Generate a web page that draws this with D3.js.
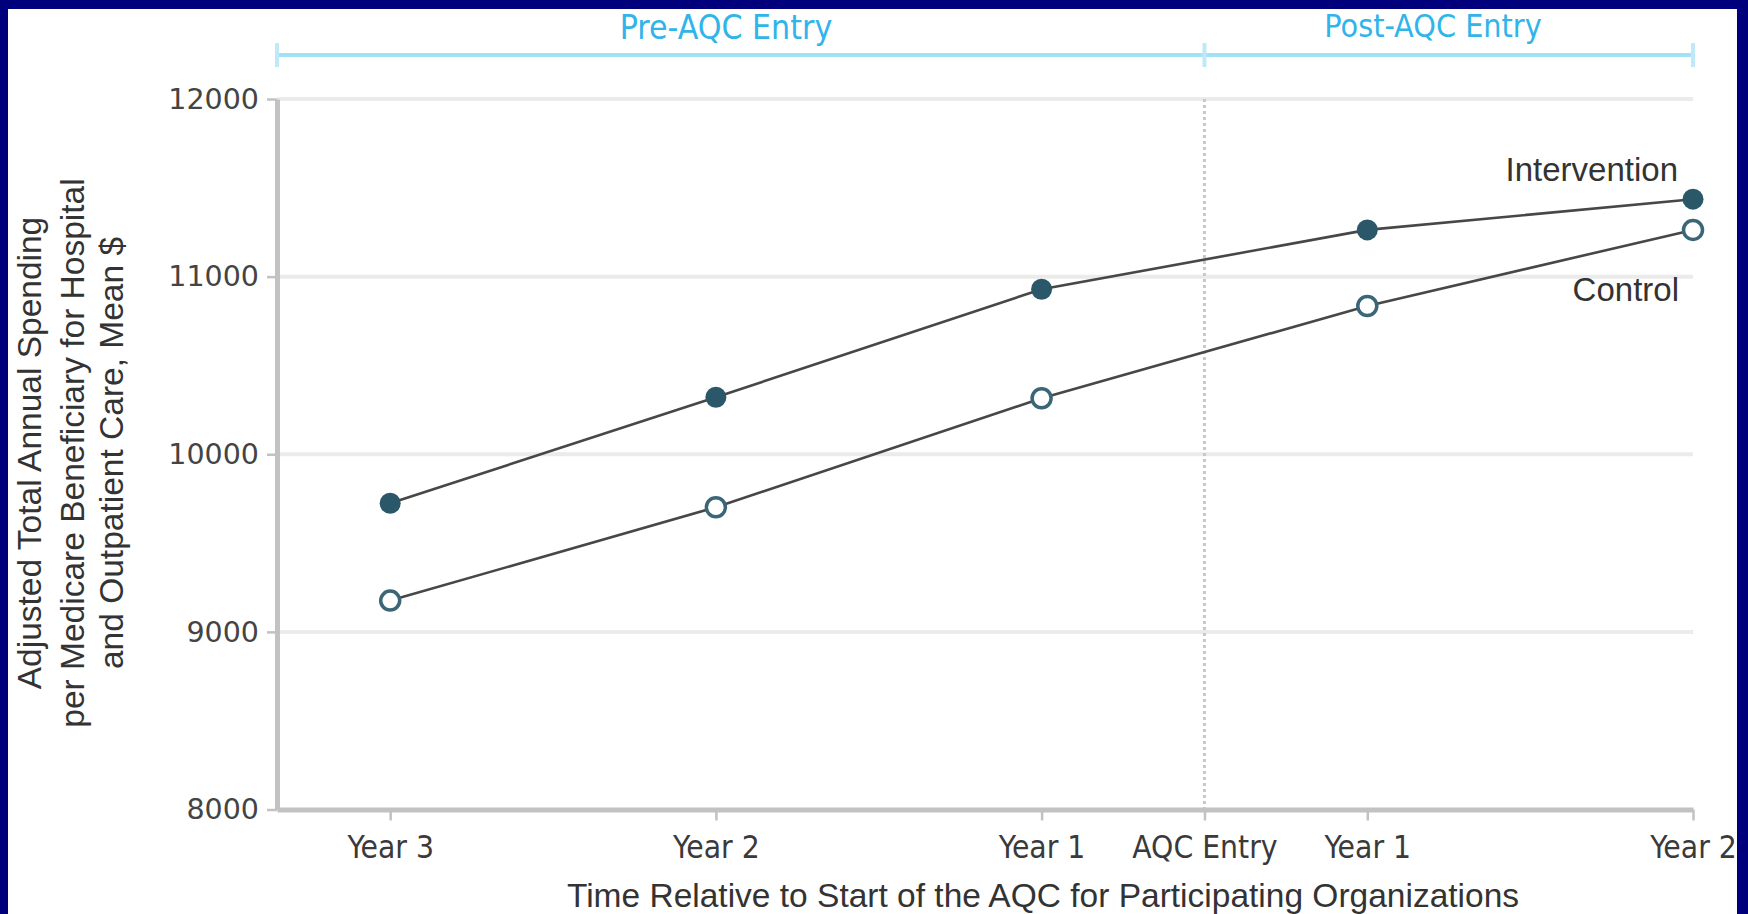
<!DOCTYPE html>
<html>
<head>
<meta charset="utf-8">
<script src="https://cdn.jsdelivr.net/npm/d3@7"></script>
<style>
  html, body { margin: 0; padding: 0; background: #fff; }
  svg { display: block; }
</style>
</head>
<body>
<script>
// ---- data ----
const xTickLabels = ["Year 3", "Year 2", "Year 1", "AQC Entry", "Year 1", "Year 2"];
const xTickPos = [-3, -2, -1, -0.5, 0, 1];
const pointPos = [-3, -2, -1, 0, 1];
const intervention = [9724, 10321, 10929, 11263, 11436];
const control = [9176, 9702, 10315, 10835, 11263];
const yTicks = [8000, 9000, 10000, 11000, 12000];
const gridTicks = [9000, 10000, 11000, 12000];
const periodLabels = ["Pre-AQC Entry", "Post-AQC Entry"];
const yTitleLines = ["Adjusted Total Annual Spending", "per Medicare Beneficiary for Hospital", "and Outpatient Care, Mean $"];
const xTitle = "Time Relative to Start of the AQC for Participating Organizations";

const W = 1748, H = 914;
const svg = d3.select("body").append("svg").attr("width", W).attr("height", H);
svg.append("rect").attr("width", W).attr("height", H).attr("fill", "#fff");

const x = d3.scaleLinear().domain([-3.3475, 1]).range([277, 1693]);
const y = d3.scaleLinear().domain([8000, 12000]).range([809.5, 99]);

const cond = "'DejaVu Sans Condensed', 'Liberation Sans Narrow', sans-serif";
const sans = "'Liberation Sans', Arial, sans-serif";

// gridlines
svg.append("g").selectAll("line").data(gridTicks).join("line")
  .attr("x1", x.range()[0]).attr("x2", x.range()[1])
  .attr("y1", d => y(d)).attr("y2", d => y(d))
  .attr("stroke", "#ebebeb").attr("stroke-width", 4);

// AQC entry dotted line
svg.append("line")
  .attr("x1", x(-0.5)).attr("x2", x(-0.5))
  .attr("y1", y(12000)).attr("y2", y(8000))
  .attr("stroke", "#c8c8c8").attr("stroke-width", 3).attr("stroke-dasharray", "3,3");

// axes
const yAxis = svg.append("g").attr("transform", `translate(${x.range()[0]},0)`)
  .call(d3.axisLeft(y).tickValues(yTicks).tickSize(10).tickSizeOuter(0).tickPadding(8).tickFormat(d3.format("d")));
yAxis.select(".domain").attr("stroke", "#c2c2c2").attr("stroke-width", 5);
yAxis.selectAll(".tick line").attr("stroke", "#c2c2c2").attr("stroke-width", 2.5);
yAxis.selectAll(".tick text").attr("font-family", "'DejaVu Sans', Verdana, sans-serif")
  .attr("font-size", 28.5).attr("fill", "#444");

const xAxis = svg.append("g").attr("transform", `translate(0,${y(8000)})`)
  .call(d3.axisBottom(x).tickValues(xTickPos).tickSize(11).tickSizeOuter(0).tickPadding(15)
    .tickFormat((d, i) => xTickLabels[i]));
xAxis.select(".domain").attr("stroke", "#c2c2c2").attr("stroke-width", 5);
xAxis.selectAll(".tick line").attr("stroke", "#c2c2c2").attr("stroke-width", 2.5);
xAxis.selectAll(".tick text").attr("font-family", cond).attr("font-size", 31.5).attr("fill", "#3a3a3a");

// period bracket
const bracketY = 55;
svg.append("line").attr("x1", x.range()[0]).attr("x2", x(1))
  .attr("y1", bracketY).attr("y2", bracketY)
  .attr("stroke", "#a3e1f7").attr("stroke-width", 4);
svg.append("g").selectAll("line").data([x.domain()[0], -0.5, 1]).join("line")
  .attr("x1", d => x(d)).attr("x2", d => x(d))
  .attr("y1", bracketY - 12).attr("y2", bracketY + 12)
  .attr("stroke", "#bfe9f9").attr("stroke-width", 4);
svg.append("text").attr("x", 726).attr("y", 39).attr("text-anchor", "middle")
  .attr("font-family", cond).attr("font-size", 33.5).attr("fill", "#30b4e9").text(periodLabels[0]);
svg.append("text").attr("x", 1433).attr("y", 37).attr("text-anchor", "middle")
  .attr("font-family", cond).attr("font-size", 32).attr("fill", "#30b4e9").text(periodLabels[1]);

// series lines
const line = d3.line().x((d, i) => x(pointPos[i])).y(d => y(d));
svg.append("path").datum(intervention).attr("d", line)
  .attr("fill", "none").attr("stroke", "#474747").attr("stroke-width", 2.6);
svg.append("path").datum(control).attr("d", line)
  .attr("fill", "none").attr("stroke", "#474747").attr("stroke-width", 2.6);

// points
svg.append("g").selectAll("circle").data(intervention).join("circle")
  .attr("cx", (d, i) => x(pointPos[i])).attr("cy", d => y(d)).attr("r", 10.5)
  .attr("fill", "#2b5868");
svg.append("g").selectAll("circle").data(control).join("circle")
  .attr("cx", (d, i) => x(pointPos[i])).attr("cy", d => y(d)).attr("r", 9.5)
  .attr("fill", "#fff").attr("stroke", "#3b6676").attr("stroke-width", 3.5);

// series labels
svg.append("text").attr("x", 1678).attr("y", 181).attr("text-anchor", "end")
  .attr("font-family", sans).attr("font-size", 33).attr("fill", "#333").text("Intervention");
svg.append("text").attr("x", 1679).attr("y", 301).attr("text-anchor", "end")
  .attr("font-family", sans).attr("font-size", 33).attr("fill", "#333").text("Control");

// axis titles
svg.append("text").attr("x", 1043).attr("y", 907).attr("text-anchor", "middle")
  .attr("font-family", sans).attr("font-size", 33.5).attr("fill", "#333").text(xTitle);
const yTitleX = [29.5, 72, 111.5];
svg.append("g").selectAll("text").data(yTitleLines).join("text")
  .attr("transform", (d, i) => `translate(${yTitleX[i]},453) rotate(-90)`)
  .attr("text-anchor", "middle").attr("dy", "0.35em")
  .attr("font-family", sans).attr("font-size", 33.5).attr("fill", "#333")
  .text(d => d);

// navy frame
const navy = "#00007c";
svg.append("rect").attr("x", 0).attr("y", 0).attr("width", W).attr("height", 9).attr("fill", navy);
svg.append("rect").attr("x", 0).attr("y", 0).attr("width", 8).attr("height", H).attr("fill", navy);
svg.append("rect").attr("x", 1737).attr("y", 0).attr("width", W - 1737).attr("height", H).attr("fill", navy);
</script>
</body>
</html>
